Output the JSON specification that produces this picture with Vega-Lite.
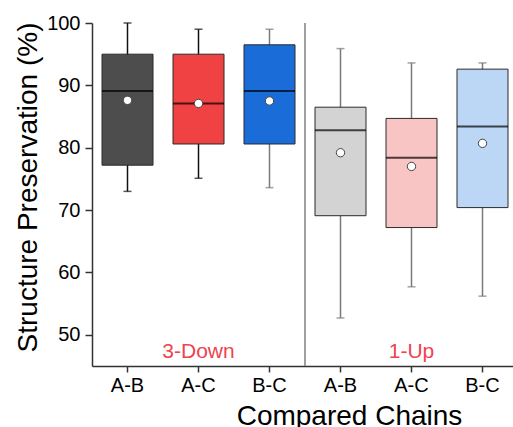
{
  "$schema": "https://vega.github.io/schema/vega-lite/v6.json",
  "width": 421,
  "height": 343,
  "autosize": {"type": "none"},
  "padding": {"left": 92, "top": 23, "right": 0, "bottom": 61},
  "config": {"view": {"stroke": null}, "font": "Liberation Sans"},
  "datasets": {
    "boxes": [
      {"group": "3-Down", "pair": "A-B", "key": "3D A-B", "min": 73.0, "q1": 77.2, "median": 89.1, "q3": 95.0, "max": 100.0, "mean": 87.6},
      {"group": "3-Down", "pair": "A-C", "key": "3D A-C", "min": 75.1, "q1": 80.6, "median": 87.1, "q3": 95.0, "max": 99.0, "mean": 87.1},
      {"group": "3-Down", "pair": "B-C", "key": "3D B-C", "min": 73.6, "q1": 80.6, "median": 89.1, "q3": 96.5, "max": 99.0, "mean": 87.5},
      {"group": "1-Up", "pair": "A-B", "key": "1U A-B", "min": 52.7, "q1": 69.1, "median": 82.8, "q3": 86.5, "max": 95.9, "mean": 79.2},
      {"group": "1-Up", "pair": "A-C", "key": "1U A-C", "min": 57.7, "q1": 67.2, "median": 78.4, "q3": 84.7, "max": 93.6, "mean": 77.0},
      {"group": "1-Up", "pair": "B-C", "key": "1U B-C", "min": 56.2, "q1": 70.4, "median": 83.4, "q3": 92.6, "max": 93.6, "mean": 80.7}
    ],
    "groups": [
      {"label": "3-Down", "key": "3D A-C"},
      {"label": "1-Up", "key": "1U A-C"}
    ],
    "divider": [
      {"key": "1U A-B"}
    ]
  },
  "data": {"name": "boxes"},
  "encoding": {
    "x": {
      "field": "key",
      "type": "nominal",
      "scale": {
        "domain": ["3D A-B", "3D A-C", "3D B-C", "1U A-B", "1U A-C", "1U B-C"],
        "range": [0, 426],
        "paddingInner": 0,
        "paddingOuter": 0
      },
      "axis": {
        "title": "Compared Chains",
        "labelAngle": 0,
        "labelExpr": "split(datum.label, ' ')[1]",
        "labelFontSize": 20,
        "labelColor": "#000",
        "labelPadding": 3,
        "tickSize": 6,
        "tickWidth": 1.5,
        "tickColor": "#333",
        "domainColor": "#333",
        "domainWidth": 1.5,
        "titleFontSize": 28,
        "titleFontWeight": "normal",
        "titleColor": "#000",
        "titleX": 257,
        "titleY": 58,
        "titleBaseline": "alphabetic",
        "titleAlign": "center"
      }
    }
  },
  "layer": [
    {
      "data": {"name": "divider"},
      "mark": {"type": "rule", "color": "#7f7f7f", "strokeWidth": 1.5},
      "encoding": {
        "x": {"field": "key", "type": "nominal", "bandPosition": 0}
      }
    },
    {
      "mark": {"type": "rule", "strokeWidth": 1.5},
      "encoding": {
        "y": {
          "field": "min",
          "type": "quantitative",
          "scale": {"domain": [45, 100], "nice": false, "zero": false},
          "axis": {
            "title": "Structure Preservation (%)",
            "values": [50, 55, 60, 65, 70, 75, 80, 85, 90, 95, 100],
            "labelExpr": "datum.value % 10 === 0 ? datum.label : ''",
            "tickSize": {"condition": {"test": "datum.value % 10 === 0", "value": 7}, "value": 4},
            "tickWidth": 1.5,
            "tickColor": "#333",
            "domainColor": "#333",
            "domainWidth": 1.5,
            "grid": false,
            "labelFontSize": 20,
            "labelColor": "#000",
            "labelPadding": 5,
            "titleFontSize": 28,
            "titleFontWeight": "normal",
            "titleColor": "#000",
            "titleX": -56,
            "titleY": 164,
            "titleAlign": "center",
            "titleBaseline": "alphabetic",
            "titleAngle": -90
          }
        },
        "y2": {"field": "max"},
        "color": {
          "condition": {"test": "datum.group === '1-Up' || datum.pair === 'B-C'", "value": "#7a7a7a"},
          "value": "#111111"
        }
      }
    },
    {
      "mark": {"type": "tick", "size": 8, "thickness": 1.5},
      "encoding": {
        "y": {"field": "min", "type": "quantitative"},
        "color": {
          "condition": {"test": "datum.group === '1-Up' || datum.pair === 'B-C'", "value": "#7a7a7a"},
          "value": "#111111"
        }
      }
    },
    {
      "mark": {"type": "tick", "size": 8, "thickness": 1.5},
      "encoding": {
        "y": {"field": "max", "type": "quantitative"},
        "color": {
          "condition": {"test": "datum.group === '1-Up' || datum.pair === 'B-C'", "value": "#7a7a7a"},
          "value": "#111111"
        }
      }
    },
    {
      "mark": {"type": "bar", "width": 51, "stroke": "#2a2a2a", "strokeWidth": 1, "opacity": 1},
      "encoding": {
        "y": {"field": "q1", "type": "quantitative"},
        "y2": {"field": "q3"},
        "fill": {
          "field": "key",
          "type": "nominal",
          "scale": {
            "domain": ["3D A-B", "3D A-C", "3D B-C", "1U A-B", "1U A-C", "1U B-C"],
            "range": ["#4d4d4d", "#f04242", "#1a6dd9", "#d3d3d3", "#f9c4c4", "#bcd7f5"]
          },
          "legend": null
        }
      }
    },
    {
      "mark": {"type": "tick", "size": 51, "thickness": 2, "color": "#000"},
      "encoding": {
        "y": {"field": "median", "type": "quantitative"}
      }
    },
    {
      "mark": {"type": "point", "filled": true, "fill": "#ffffff", "stroke": "#444", "strokeWidth": 1, "size": 70, "opacity": 1, "shape": "circle"},
      "encoding": {
        "y": {"field": "mean", "type": "quantitative"}
      }
    },
    {
      "data": {"name": "groups"},
      "mark": {"type": "text", "fontSize": 21, "color": "#f0424f", "baseline": "middle", "align": "center"},
      "encoding": {
        "y": {"datum": 47.2, "type": "quantitative"},
        "text": {"field": "label"}
      }
    }
  ]
}
